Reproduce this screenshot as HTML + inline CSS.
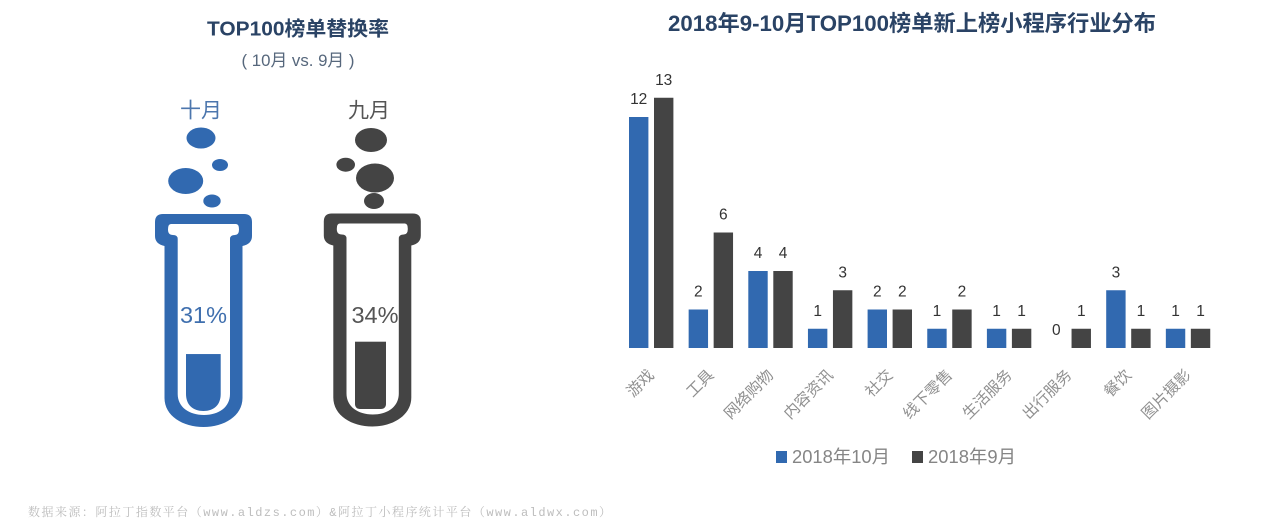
<!DOCTYPE html>
<html lang="zh">
<head>
<meta charset="utf-8">
<title>TOP100榜单</title>
<style>
html,body{margin:0;padding:0;background:#fff;width:1271px;height:530px;overflow:hidden}
svg{display:block}
text{font-family:"Liberation Sans","Noto Sans CJK SC",sans-serif}
</style>
</head>
<body>
<svg id="stage" xmlns="http://www.w3.org/2000/svg" width="1271" height="530" viewBox="0 0 1271 530">
  <defs>
    <clipPath id="liquid-clip-oct"><path d="M186 340V394C186 405 193 411 203.4 411S220.7 405 220.7 394V340Z"/></clipPath>
    <clipPath id="liquid-clip-sep"><path d="M355 330V404C355 407 357 409 360 409H381C384 409 386 407 386 404V330Z"/></clipPath>
  </defs>

  <text x="298" y="35.5" text-anchor="middle" font-size="20" font-weight="700" fill="#2a4365" textLength="182" lengthAdjust="spacingAndGlyphs">TOP100榜单替换率</text>
  <text x="298" y="66" text-anchor="middle" font-size="17" fill="#56677c" textLength="113" lengthAdjust="spacingAndGlyphs">( 10月 vs. 9月 )</text>

  <g>
    <text x="201" y="117.5" text-anchor="middle" font-size="21" fill="#4c76ad">十月</text>
    <ellipse cx="201" cy="138" rx="14.5" ry="10.5" fill="#3169b0"/>
    <ellipse cx="220" cy="165" rx="8" ry="6" fill="#3169b0"/>
    <ellipse cx="185.7" cy="181" rx="17.5" ry="13" fill="#3169b0"/>
    <ellipse cx="212" cy="201" rx="8.7" ry="6.5" fill="#3169b0"/>
    <path fill="#3169b0" fill-rule="evenodd" d="M163 214H244Q252 214 252 222V236Q252 244 242.5 246V398C242.5 416 224 427 203.5 427S164.5 416 164.5 398V246Q155 244 155 236V222Q155 214 163 214ZM171 224H236Q239 224 239 229.5Q239 235 235 235Q230 235 230 239V394C230 407 219 415 204 415S177.7 407 177.7 394V239Q177.7 235 173 235Q168 235 168 229.5Q168 224 171 224Z"/>
    <rect id="liquid-oct" x="186" y="354" width="35" height="66" fill="#3169b0" clip-path="url(#liquid-clip-oct)"/>
    <text id="rate-oct" x="203.5" y="323" text-anchor="middle" font-size="23.5" fill="#3f6fae"></text>
  </g>

  <g>
    <text x="369" y="117.5" text-anchor="middle" font-size="21" fill="#555555">九月</text>
    <ellipse cx="371" cy="140" rx="16" ry="12" fill="#444444"/>
    <ellipse cx="345.7" cy="164.7" rx="9.3" ry="7" fill="#444444"/>
    <ellipse cx="375" cy="178" rx="19" ry="14.5" fill="#444444"/>
    <ellipse cx="374" cy="201" rx="10" ry="8" fill="#444444"/>
    <path transform="translate(168.8,-0.5)" fill="#444444" fill-rule="evenodd" d="M163 214H244Q252 214 252 222V236Q252 244 242.5 246V398C242.5 416 224 427 203.5 427S164.5 416 164.5 398V246Q155 244 155 236V222Q155 214 163 214ZM171 224H236Q239 224 239 229.5Q239 235 235 235Q230 235 230 239V394C230 407 219 415 204 415S177.7 407 177.7 394V239Q177.7 235 173 235Q168 235 168 229.5Q168 224 171 224Z"/>
    <rect id="liquid-sep" x="355" y="342" width="31" height="70" fill="#444444" clip-path="url(#liquid-clip-sep)"/>
    <text id="rate-sep" x="375" y="323" text-anchor="middle" font-size="23.5" fill="#555555"></text>
  </g>

  <text x="912" y="31" text-anchor="middle" font-size="22" font-weight="700" fill="#2a4365" textLength="488" lengthAdjust="spacingAndGlyphs">2018年9-10月TOP100榜单新上榜小程序行业分布</text>

  <g id="bars"></g>

  <g>
    <rect x="776" y="451" width="11" height="12" fill="#3169b0"/>
    <text x="792" y="463" font-size="18" fill="#858585" textLength="98" lengthAdjust="spacingAndGlyphs">2018年10月</text>
    <rect x="912" y="451" width="11" height="12" fill="#444444"/>
    <text x="928" y="463" font-size="18" fill="#858585" textLength="88" lengthAdjust="spacingAndGlyphs">2018年9月</text>
  </g>

  <text x="28" y="516" font-size="12" fill="#bdbdbd" textLength="583" lengthAdjust="spacing" style="font-family:'Liberation Mono','Noto Serif CJK SC',monospace">数据来源：阿拉丁指数平台（www.aldzs.com）&amp;阿拉丁小程序统计平台（www.aldwx.com）</text>
</svg>

<script>
var categories = ['游戏','工具','网络购物','内容资讯','社交','线下零售','生活服务','出行服务','餐饮','图片摄影'];
var octoberValues = [12,2,4,1,2,1,1,0,3,1];
var septemberValues = [13,6,4,3,2,2,1,1,1,1];
var rateValues = [31,34];

var NS = 'http://www.w3.org/2000/svg';
var chartBaseY = 348;
var unitHeight = 19.25;
var firstGroupX = 629;
var groupPitch = 59.65;
var barWidth = 19.4;
var seriesGap = 25;

function xBar(i, s){ return firstGroupX + i * groupPitch + s * seriesGap; }
function yVal(v){ return chartBaseY - v * unitHeight; }

var root = document.getElementById('bars');

function drawBar(i, s, v, color, seriesName){
  var r = document.createElementNS(NS,'rect');
  r.setAttribute('x', xBar(i,s));
  r.setAttribute('y', yVal(v));
  r.setAttribute('width', barWidth);
  r.setAttribute('height', chartBaseY - yVal(v));
  r.setAttribute('fill', color);
  
  
  root.appendChild(r);

  var t = document.createElementNS(NS,'text');
  t.setAttribute('x', xBar(i,s) + barWidth/2);
  t.setAttribute('y', yVal(v) - 13);
  t.setAttribute('text-anchor', 'middle');
  t.setAttribute('font-size', '15.5');
  t.setAttribute('fill', '#333333');
  
  
  t.textContent = v;
  root.appendChild(t);
}

categories.forEach(function(c, i){
  drawBar(i, 0, octoberValues[i], '#3169b0', 'october');
  drawBar(i, 1, septemberValues[i], '#444444', 'september');

  var ax = xBar(i,0) + 26;
  var ay = 376;
  var lab = document.createElementNS(NS,'text');
  lab.setAttribute('x', ax);
  lab.setAttribute('y', ay);
  lab.setAttribute('text-anchor', 'end');
  lab.setAttribute('font-size', '15.5');
  lab.setAttribute('fill', '#909090');
  lab.setAttribute('transform', 'rotate(-45 ' + ax + ' ' + ay + ')');
  
  
  lab.textContent = c;
  root.appendChild(lab);
});

var liquidScale = 1.95;
var liquidFloors = [414.5, 408];
var liquidIds = ['liquid-oct','liquid-sep'];
var rateIds = ['rate-oct','rate-sep'];
rateValues.forEach(function(v, i){
  document.getElementById(liquidIds[i]).setAttribute('y', liquidFloors[i] - v * liquidScale);
  document.getElementById(liquidIds[i]).setAttribute('height', v * liquidScale + 10);
  document.getElementById(rateIds[i]).textContent = v + '%';
});
</script>
</body>
</html>
